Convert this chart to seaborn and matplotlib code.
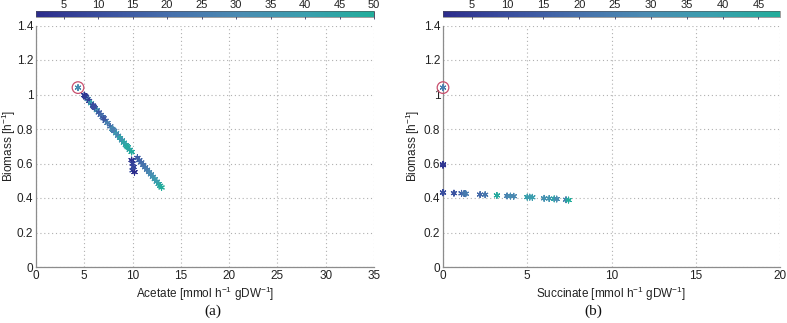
import numpy as np
import pandas as pd
import seaborn as sns
import matplotlib
matplotlib.use("Agg")
import matplotlib.pyplot as plt
from matplotlib.colors import LinearSegmentedColormap, Normalize
from matplotlib.cm import ScalarMappable

# ---------------- data ----------------
# panel (a): acetate vs biomass, colour = iteration
acetate_x = [5.0, 5.2, 5.35, 5.5, 5.7, 5.9, 6.1, 6.3, 6.5, 6.7, 6.9, 7.2, 7.4, 7.7, 7.9,
             8.1, 8.3, 8.5, 8.7, 8.9, 9.1, 9.3, 9.5, 9.7, 9.9, 5.1, 6.0, 7.0, 8.0, 9.4,
             9.9, 10.0, 10.1, 10.0, 10.2,
             10.5, 10.7, 10.9, 11.1, 11.3, 11.5, 11.7, 11.9, 12.1, 12.3, 12.5, 12.7, 12.85, 13.0,
             4.35]
acetate_biomass = [0.996, 0.983, 0.973, 0.963, 0.949, 0.936, 0.922, 0.909, 0.896, 0.882, 0.869,
                   0.848, 0.835, 0.815, 0.801, 0.788, 0.775, 0.761, 0.748, 0.734, 0.721, 0.707,
                   0.694, 0.680, 0.667, 0.990, 0.929, 0.862, 0.795, 0.700,
                   0.620, 0.600, 0.580, 0.560, 0.550,
                   0.633, 0.619, 0.606, 0.592, 0.578, 0.564, 0.550, 0.537, 0.523, 0.509,
                   0.495, 0.481, 0.471, 0.461,
                   1.040]
acetate_iter = [2, 4, 30, 6, 40, 9, 12, 36, 14, 18, 22, 16, 26, 20, 33, 24, 38, 29, 43, 35,
                45, 41, 47, 44, 49, 5, 11, 13, 27, 48,
                3, 7, 8, 10, 1,
                15, 17, 19, 21, 23, 25, 28, 31, 34, 37, 39, 42, 46, 50,
                32]

# panel (b): succinate vs biomass
succ_x = [0.0, 0.0, 0.0, 0.0, 0.65, 1.1, 1.25, 1.35, 2.2, 2.5, 3.2, 3.8, 4.0, 4.2,
          5.0, 5.15, 5.3, 6.0, 6.3, 6.6, 6.75, 7.3, 7.45, 0.0]
succ_biomass = [0.590, 0.432, 0.430, 0.595, 0.428, 0.427, 0.426, 0.425, 0.420, 0.419,
                0.415, 0.412, 0.411, 0.410, 0.405, 0.405, 0.404, 0.398, 0.397, 0.395,
                0.394, 0.390, 0.388, 1.040]
succ_iter = [2, 6, 10, 4, 12, 16, 20, 24, 18, 22, 46, 26, 30, 28, 40, 36, 38, 32, 34,
             42, 30, 26, 48, 25]

x_ticks_a = [0, 5, 10, 15, 20, 25, 30, 35]
x_ticks_b = [0, 5, 10, 15, 20]
y_ticks = [0, 0.2, 0.4, 0.6, 0.8, 1, 1.2, 1.4]
y_ticklabels = ["0", "0.2", "0.4", "0.6", "0.8", "1", "1.2", "1.4"]
cbar_ticks_a = [5, 10, 15, 20, 25, 30, 35, 40, 45, 50]
cbar_ticks_b = [5, 10, 15, 20, 25, 30, 35, 40, 45]

# ---------------- style ----------------
sns.set_theme(style="white")
plt.rcParams['font.family'] = ['Liberation Sans', 'DejaVu Sans']
plt.rcParams['mathtext.fontset'] = 'custom'
plt.rcParams['mathtext.rm'] = 'Liberation Sans'
plt.rcParams['mathtext.it'] = 'Liberation Sans'

cmap = LinearSegmentedColormap.from_list(
    "bluteal", ["#2c2c8c", "#3a4f9f", "#4670ac", "#4a8bb2", "#3a9fae", "#22ad9b"])

W, H = 787, 323
fig = plt.figure(figsize=(W / 100, H / 100), dpi=100)

def ax_rect(x0, x1, ytop, ybot):
    return [x0 / W, 1 - ybot / H, (x1 - x0) / W, (ybot - ytop) / H]

panels = [
    dict(x=acetate_x, y=acetate_biomass, c=acetate_iter, xlim=35, xticks=x_ticks_a,
         vmax=50, cticks=cbar_ticks_a, rect=(36, 374), label="Acetate", cap="(a)", capx=213,
         ylabx=18),
    dict(x=succ_x, y=succ_biomass, c=succ_iter, xlim=20, xticks=x_ticks_b,
         vmax=48, cticks=cbar_ticks_b, rect=(443, 780), label="Succinate", cap="(b)", capx=593,
         ylabx=422),
]

gray = "#8c8c8c"
for p in panels:
    x0, x1 = p["rect"]
    ax = fig.add_axes(ax_rect(x0, x1, 25.5, 267))
    df = pd.DataFrame({"x": p["x"], "y": p["y"], "it": p["c"]})
    norm = Normalize(vmin=1, vmax=p["vmax"])
    sns.scatterplot(data=df, x="x", y="y", hue="it", palette=cmap, hue_norm=norm,
                    marker=(6, 2, 0), s=18, linewidth=0.8, legend=False, ax=ax,
                    clip_on=False, zorder=3)
    # optimum marker (red circle)
    ax.scatter([p["x"][-1]], [p["y"][-1]], s=70, facecolors="none",
               edgecolors="#c8506e", linewidths=0.9, zorder=4, clip_on=False)

    ax.set_xlim(0, p["xlim"])
    ax.set_ylim(0, 1.4)
    ax.set_xticks(p["xticks"])
    ax.set_xticklabels([str(t) for t in p["xticks"]])
    ax.set_yticks(y_ticks)
    ax.set_yticklabels(y_ticklabels)
    ax.grid(True, linestyle=(0, (1, 2.5)), color="#b0b0b0", linewidth=0.8)
    for s in ["top", "right"]:
        ax.spines[s].set_visible(False)
    for s in ["left", "bottom"]:
        ax.spines[s].set_color(gray)
        ax.spines[s].set_linewidth(0.9)
    ax.tick_params(direction="in", length=3, width=0.7, color=gray, labelsize=8.5,
                   labelcolor="#222222", pad=2)
    ax.set_xlabel(p["label"] + r" [mmol h$^{-1}$ gDW$^{-1}$]", fontsize=8.5,
                  color="#222222", labelpad=2)
    ax.set_ylabel(r"Biomass [h$^{-1}$]", fontsize=8.5, color="#222222")
    ax.yaxis.set_label_coords((p["ylabx"] - x0) / (x1 - x0), 0.5)

    # colorbar on top
    cax = fig.add_axes(ax_rect(x0, x1, 11, 17))
    sm = ScalarMappable(norm=norm, cmap=cmap)
    cb = fig.colorbar(sm, cax=cax, orientation="horizontal", ticks=p["cticks"])
    cb.outline.set_linewidth(0.4)
    cb.outline.set_edgecolor("#555555")
    cax.xaxis.set_ticks_position("top")
    cax.tick_params(direction="in", length=6, width=0.6, color="#333366",
                    labelsize=8, labelcolor="#222222", pad=0.5)

    fig.text(p["capx"] / W, 1 - 311 / H, p["cap"], ha="center", va="center",
             fontsize=11, family="Liberation Serif", color="#111111")

fig.savefig("out.png", dpi=100)
